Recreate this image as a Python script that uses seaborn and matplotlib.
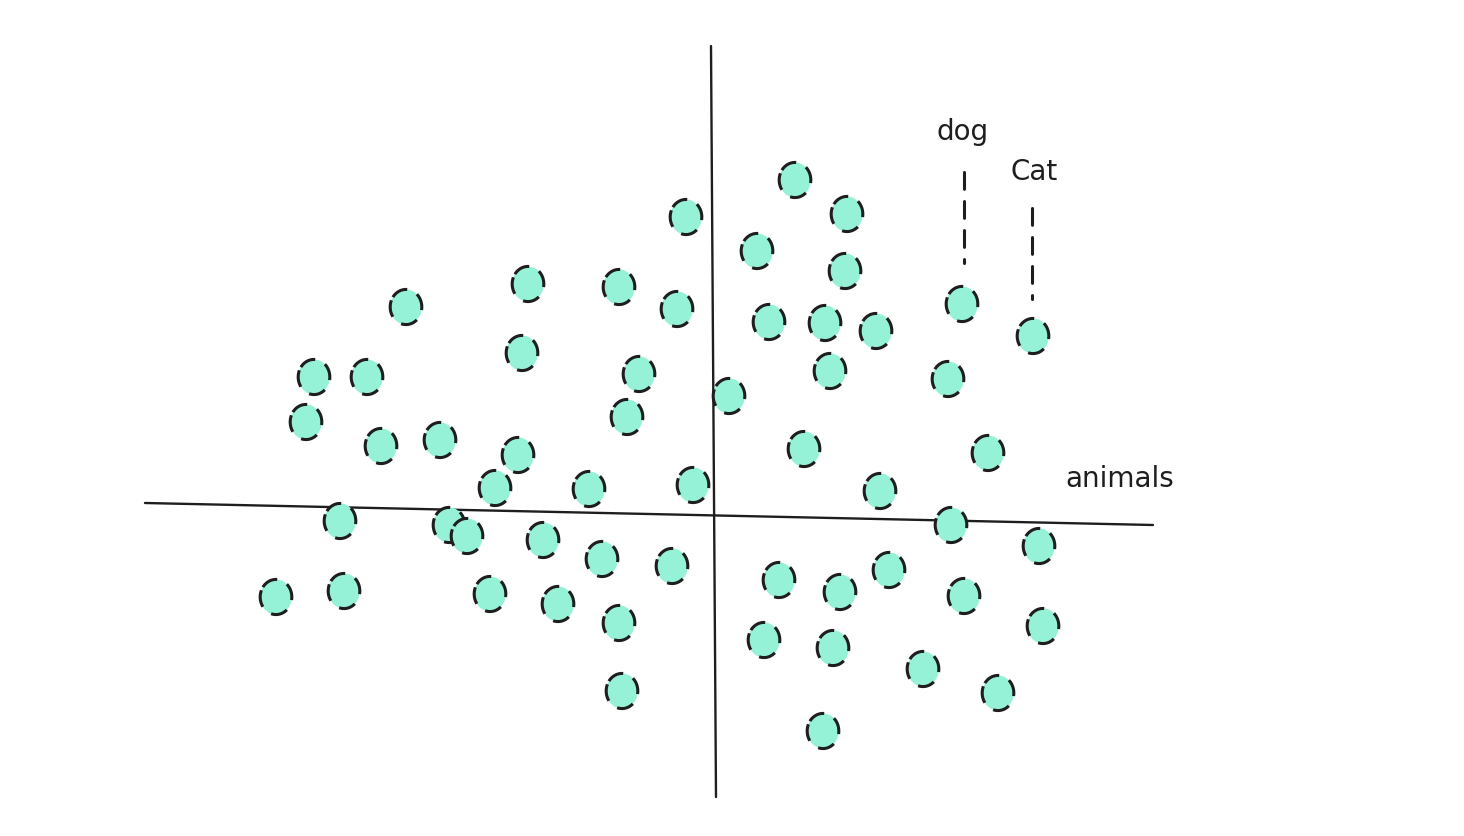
import numpy as np
import pandas as pd
import matplotlib
matplotlib.use("Agg")
import matplotlib.pyplot as plt
from matplotlib.path import Path
import seaborn as sns

# ---- data (origin at the crossing of the two hand-drawn axes) ----
x_vals = [81, -28, 133, 43, 131, -186, -95, -37, -308, 55, 111, 162, 248, 319,
          -192, -400, -347, -75, 116, 234, 15, -408, -87, -333, -274, -196, 90,
          274, -219, -125, -21, 166, -374, -265, -247, -171, 237, 325, -112, -42,
          65, 126, 175, -438, -370, -224, -156, -95, 250, 329, 50, 119, 209, 284,
          -92, 109]
y_vals = [335, 298, 301, 264, 244, 231, 228, 206, 208, 193, 192, 184, 211, 179,
          162, 138, 138, 141, 144, 136, 119, 93, 98, 69, 75, 60, 66,
          62, 27, 26, 30, 24, -6, -10, -21, -25, -10, -31, -44, -51,
          -65, -77, -55, -82, -76, -79, -89, -108, -81, -111, -125, -133, -154, -178,
          -176, -216]

label_names = ["dog", "Cat"]
label_x = [249, 320]
label_y = [383, 343]
axis_title = "animals"

df = pd.DataFrame({"x": x_vals, "y": y_vals})

INK = "#1e1e1e"
FILL = "#96f2d7"

sns.set_theme(style="white")
plt.rcParams["font.family"] = ["DejaVu Sans"]

fig = plt.figure(figsize=(14.64, 8.36), dpi=100)
ax = fig.add_axes([0, 0, 1, 1])
ax.set_xlim(-714, 750)
ax.set_ylim(-321, 515)
ax.axis("off")

# hand-drawn looking axes (slightly tilted)
ax.plot([-569, 439], [12, -10], color=INK, lw=1.7, zorder=1, solid_capstyle="round")
ax.plot([-3, 2], [469, -282], color=INK, lw=1.7, zorder=1, solid_capstyle="round")

# slightly tall ellipse marker
t = np.linspace(0, 2 * np.pi, 90)
ell = Path(np.column_stack([0.9 * np.cos(t + 2.75), np.sin(t + 2.75)]), closed=True)

sns.scatterplot(data=df, x="x", y="y", ax=ax, marker=ell, s=640,
                color=FILL, edgecolor=INK, linewidth=2.2,
                linestyle=(0, (5.6, 3.6)), zorder=3, legend=False)

# labels
ax.text(406, 36, axis_title, fontsize=20, color=INK, ha="center", va="center")
for name, lx, ly in zip(label_names, label_x, label_y):
    ax.text(lx, ly, name, fontsize=20, color=INK, ha="center", va="center")

# dashed leader lines from the labels down to the points
for x0, ytop, ybot in [(250, 343, 252), (318, 307, 216)]:
    ax.plot([x0, x0], [ytop, ybot], color=INK, lw=2.2,
            linestyle=(0, (5.5, 4.0)), dash_capstyle="round", zorder=2)

fig.savefig("out.png", dpi=100, facecolor="white")
